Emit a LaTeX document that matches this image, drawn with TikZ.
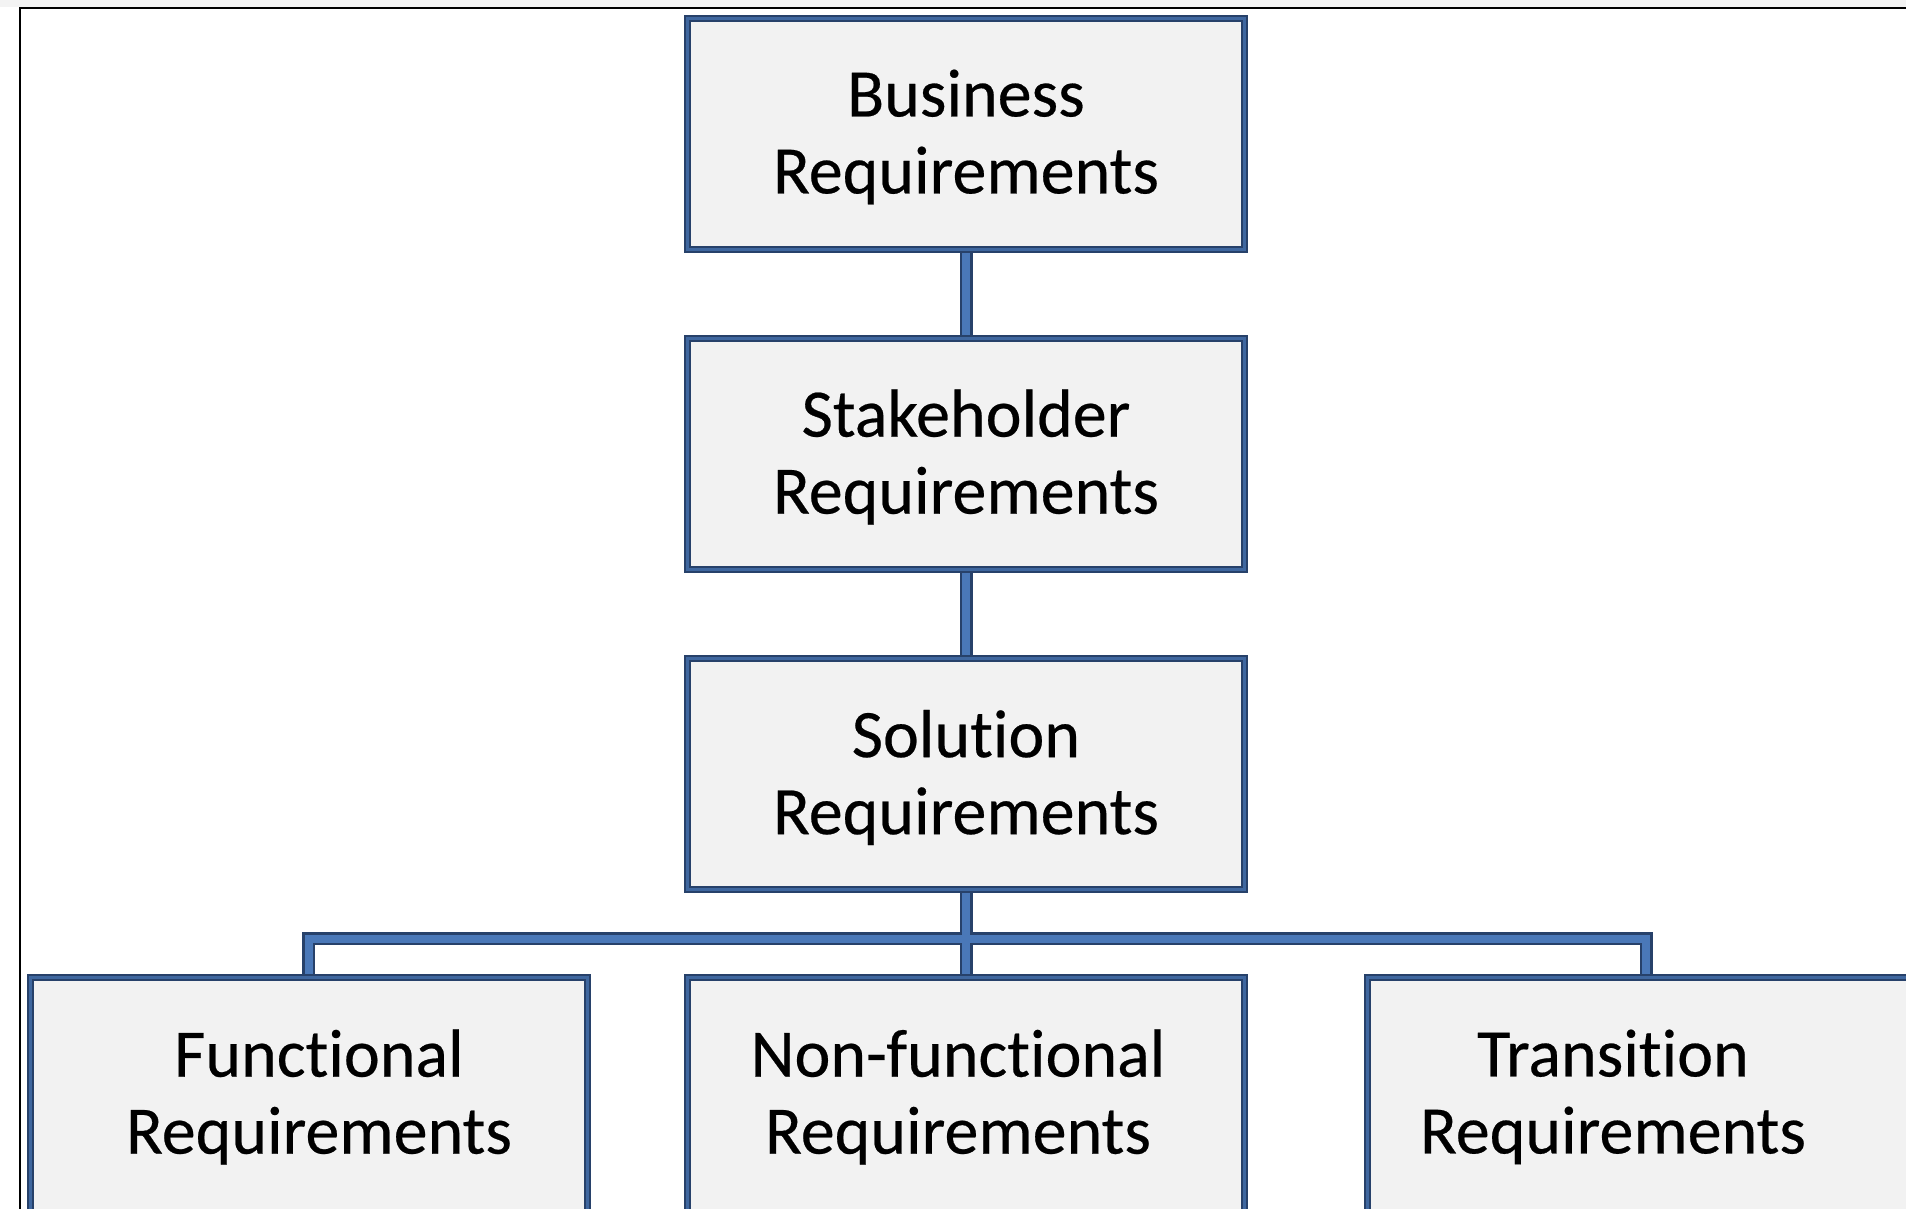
\documentclass[tikz,border=0pt]{standalone}
\usepackage{fontspec}
\setmainfont{Carlito}[Ligatures=NoCommon, FakeBold=0.35]
\usetikzlibrary{backgrounds}
\definecolor{navy}{HTML}{27416A}
\definecolor{bblue}{HTML}{4A78B8}
\definecolor{edgeblue}{HTML}{3F679F}
\definecolor{boxfill}{HTML}{F2F2F2}
\definecolor{band}{HTML}{F3F3F3}
\begin{document}
\begin{tikzpicture}[x=1pt,y=-1pt,
  reqbox/.style={rectangle, draw=navy, line width=2pt, double=edgeblue, double distance=3pt,
    fill=boxfill, minimum width=557pt, minimum height=231pt, inner sep=0pt},
  lowbox/.style={reqbox, minimum height=247pt},
  reqtext/.style={align=center, inner sep=0pt, font=\fontsize{68}{77}\selectfont},
  conn/.style={draw=navy, line width=2.5pt, double=bblue, double distance=8pt}
]
\useasboundingbox (0,0) rectangle (1906,1209);
\clip (0,0) rectangle (1906,1209);

\node[reqbox] (bBox) at (966,134) {};
\node[reqbox] (sBox) at (966,454) {};
\node[reqbox] (solBox) at (966,774) {};

\node[lowbox] (fBox) at (308.5,1101) {};
\node[lowbox] (nBox) at (966,1101) {};
\node[lowbox] (tBox) at (1646,1101) {};

\node[reqtext] (bText) at (966,137) {Business\\Requirements};
\node[reqtext] (sText) at (966,457) {Stakeholder\\Requirements};
\node[reqtext] (solText) at (966,777.5) {Solution\\Requirements};
\node[reqtext] (fText) at (319,1097) {Functional\\Requirements};
\node[reqtext] (nText) at (958,1097) {Non-functional\\Requirements};
\node[reqtext] (tText) at (1613,1097) {Transition\\Requirements};

\begin{pgfonlayer}{background}
  \fill[white] (0,0) rectangle (1906,1209);
  \fill[band] (0,0) rectangle (1906,7);
  \draw[black, line width=2pt] (20,1209) -- (20,8) -- (1906,8);
  \draw[conn] (bBox.south) -- (sBox.north)
              (sBox.south) -- (solBox.north)
              (solBox.south) -- (nBox.north)
              (fBox.north) -- ++(0,-38) -| (tBox.north);
\end{pgfonlayer}
\end{tikzpicture}
\end{document}
